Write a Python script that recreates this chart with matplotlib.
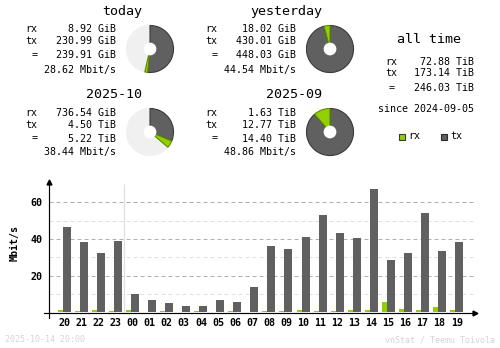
import matplotlib
matplotlib.use("Agg")
import matplotlib.pyplot as plt
from matplotlib.patches import Rectangle, Circle

W, H = 500, 348
MONO = "DejaVu Sans Mono"

# ---------------- data ----------------
hours = ["20", "21", "22", "23", "00", "01", "02", "03", "04", "05", "06", "07",
         "08", "09", "10", "11", "12", "13", "14", "15", "16", "17", "18", "19"]
rx_rate = [1.3, 0.7, 1.3, 0.7, 1.3, 0.2, 0.7, 0.2, 0.7, 0.2, 0.7, 0.3,
           0.7, 0.7, 1.3, 0.7, 0.7, 1.3, 1.3, 5.6, 1.8, 1.3, 2.9, 1.3]
tx_rate = [46.7, 38.6, 32.1, 39.1, 9.9, 6.7, 5.0, 3.4, 3.4, 6.7, 5.6, 13.7,
           36.4, 34.8, 41.3, 53.2, 43.4, 40.7, 67.2, 28.3, 32.6, 54.2, 33.2, 38.6]
y_ticks = [20, 40, 60]
y_minor = [10, 30, 50]

period_titles = ["today", "yesterday", "2025-10", "2025-09"]
rx_text = ["8.92 GiB", "18.02 GiB", "736.54 GiB", "1.63 TiB"]
tx_text = ["230.99 GiB", "430.01 GiB", "4.50 TiB", "12.77 TiB"]
total_text = ["239.91 GiB", "448.03 GiB", "5.22 TiB", "14.40 TiB"]
rate_text = ["28.62 Mbit/s", "44.54 Mbit/s", "38.44 Mbit/s", "48.86 Mbit/s"]
rx_gib = [8.92, 18.02, 736.54, 1.63 * 1024]
tx_gib = [230.99, 430.01, 4.50 * 1024, 12.77 * 1024]
ref_gib = [448.03, 448.03, 14.40 * 1024, 14.40 * 1024]   # previous period total

alltime_rx = "72.88 TiB"
alltime_tx = "173.14 TiB"
alltime_total = "246.03 TiB"
since_text = "since 2024-09-05"
stamp_text = "2025-10-14 20:00"
credit_text = "vnStat / Teemu Toivola"

RX = "#92CF00"
RXD = "#5E8A00"
TX = "#606060"
TXD = "#3A3A3A"
REST = "#F0F0F0"

# ---------------- figure ----------------
fig = plt.figure(figsize=(W / 100, H / 100), dpi=100)
fig.patch.set_facecolor("white")


def P(x, y):
    return x / W, 1 - y / H


def txt(x, y, s, size=7.2, ha="left", color="black", **kw):
    fig.text(*P(x, y), s, fontsize=size, ha=ha, va="center", color=color,
             family=MONO, **kw)


# summary blocks
offsets = [(0, 0), (180, 0), (0, 83), (180, 83)]
pie_centers = [(150, 49), (330, 49), (150, 132), (330, 132)]
R = 24
for i, (dx, dy) in enumerate(offsets):
    txt(142 + dx, 11.5 + dy, period_titles[i], size=9.6, ha="right")
    txt(37.5 + dx, 29.5 + dy, "rx", ha="right")
    txt(37.5 + dx, 41.5 + dy, "tx", ha="right")
    txt(37.5 + dx, 55.5 + dy, "=", ha="right")
    txt(115.5 + dx, 29.5 + dy, rx_text[i], ha="right")
    txt(115.5 + dx, 41.5 + dy, tx_text[i], ha="right")
    txt(115.5 + dx, 55.5 + dy, total_text[i], ha="right")
    txt(115.5 + dx, 69.5 + dy, rate_text[i], ha="right")

    cx, cy = pie_centers[i]
    pax = fig.add_axes([(cx - R) / W, 1 - (cy + R) / H, 2 * R / W, 2 * R / H])
    rest = max(ref_gib[i] - rx_gib[i] - tx_gib[i], 0.0)
    vals = [tx_gib[i], rx_gib[i], rest]
    wedges, _ = pax.pie(vals, colors=[TX, RX, REST], startangle=90,
                        counterclock=False, radius=1.0,
                        wedgeprops=dict(linewidth=0.8))
    wedges[0].set_edgecolor(TXD)
    wedges[1].set_edgecolor(RXD)
    wedges[2].set_edgecolor(REST)
    wedges[2].set_zorder(0)
    pax.add_patch(Circle((0, 0), 6.5 / R, facecolor="white", edgecolor="none",
                         zorder=5))
    pax.set_xlim(-1.02, 1.02)
    pax.set_ylim(-1.02, 1.02)
    pax.set_axis_off()

# all time block
txt(429, 39.5, "all time", size=9.6, ha="center")
txt(385, 62, "rx")
txt(385, 73.5, "tx")
txt(394.5, 88, "=", ha="right")
txt(474.5, 62, alltime_rx, ha="right")
txt(474.5, 73.5, alltime_tx, ha="right")
txt(474.5, 88, alltime_total, ha="right")
txt(474.5, 108.5, since_text, ha="right")

# legend
for (lx, col, edge, lab) in [(398.5, RX, "#3A3A3A", "rx"), (440.5, TX, "#2A2A2A", "tx")]:
    fig.patches.append(Rectangle(P(lx, 140), 6 / W, 6 / H, transform=fig.transFigure,
                                 facecolor=col, edgecolor=edge, linewidth=0.8))
    txt(lx + 9.5, 136.5, lab)

# footer
txt(5, 340, stamp_text, size=6.0, color="#D4D4D4")
txt(495, 340, credit_text, size=6.0, ha="right", color="#D4D4D4")

# ---------------- bar chart ----------------
slot = 17.05
x0 = 64.5
zero_px = 312.4
unit = 1.835
left_px, right_px, top_px, bot_px = 48.5, 476.7, 181.0, 317.7
ax = fig.add_axes([left_px / W, 1 - bot_px / H, (right_px - left_px) / W,
                   (bot_px - top_px) / H])
xmin = (left_px - x0) / slot
xmax = (right_px - x0) / slot
ymax = (zero_px - top_px) / unit
ymin = (zero_px - bot_px) / unit
ax.set_xlim(xmin, xmax)
ax.set_ylim(ymin, ymax)
ax.set_facecolor("none")

grid_end = (472.7 - x0) / slot
for v in y_minor:
    ax.plot([xmin, grid_end], [v, v], color="#E0E0E0", lw=0.72,
            linestyle=(0, (4, 3)), zorder=1)
for v in y_ticks:
    ax.plot([xmin, grid_end], [v, v], color="#B0B0B0", lw=0.72,
            linestyle=(0, (4, 3)), zorder=1)

ax.vlines(3.5, 0, (zero_px - 184) / unit, color="#E0E0E0", lw=0.9, zorder=1)

idx = list(range(len(hours)))
ax.bar([i - 6.7 / slot for i in idx], rx_rate, width=5 / slot, align="edge",
       color=RX, linewidth=0, zorder=3)
ax.bar([i - 1.7 / slot for i in idx], tx_rate, width=8 / slot, align="edge",
       color=TX, linewidth=0, zorder=3)

for s in ["top", "right", "bottom"]:
    ax.spines[s].set_visible(False)
ax.spines["left"].set_color("black")
ax.spines["left"].set_linewidth(0.85)
ax.spines["left"].set_zorder(4)

# x axis line sits just below the bar bases
axis_y = -0.5 / unit
xa0 = (44 - x0) / slot
ax.plot([xa0, xmax - 0.1], [axis_y, axis_y], color="black", lw=0.85,
        clip_on=False, zorder=2)
ax.plot([xmax - 0.12], [axis_y], marker=">", color="black", markersize=3.5,
        clip_on=False, zorder=5)
ax.plot([xmin], [ymax - 0.8], marker="^", color="black", markersize=3.5,
        clip_on=False, zorder=5)

ax.set_xticks(idx)
ax.set_xticklabels(hours, family=MONO, fontsize=7.2, fontweight="bold")
ax.set_yticks(y_ticks)
ax.set_yticklabels([str(v) for v in y_ticks], family=MONO, fontsize=7.2,
                   fontweight="bold")
ax.tick_params(axis="both", length=0)
ax.tick_params(axis="x", pad=0.5)
ax.tick_params(axis="y", pad=4.5)

fig.text(*P(14.7, 243), "Mbit/s", rotation=90, ha="center", va="center",
         family=MONO, fontsize=7.2, fontweight="bold")

fig.savefig("out.png", dpi=100, facecolor="white")
